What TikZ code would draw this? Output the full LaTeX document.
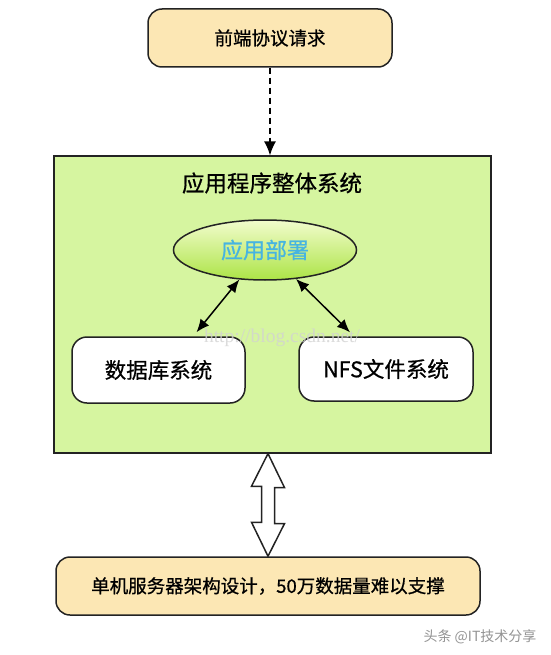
\documentclass[tikz,border=0pt]{standalone}
\usepackage{fontspec}
\setmainfont{Noto Sans CJK SC}[FakeBold=0.7]
\newfontfamily\wmfont{Liberation Serif}
\newfontfamily\plainfont{Noto Sans CJK SC}
\usetikzlibrary{shapes.geometric,arrows.meta}

\definecolor{reqfill}{RGB}{252,231,180}
\definecolor{sysfill}{RGB}{214,245,160}
\definecolor{edge}{RGB}{35,35,35}
\definecolor{apptext}{RGB}{70,180,225}
\definecolor{apptop}{RGB}{242,252,205}
\definecolor{appbot}{RGB}{172,228,70}

\tikzset{
  reqbox/.style={draw=edge,line width=1.5pt,rounded corners=14pt,fill=reqfill},
  subbox/.style={draw=edge,line width=1.5pt,rounded corners=15pt,fill=white},
  link/.style={line width=1.5pt,{Latex[length=13pt,width=11pt]}-{Latex[length=13pt,width=11pt]}}
}

\begin{document}
\begin{tikzpicture}[x=1pt,y=-1pt]
  \useasboundingbox (0,0) rectangle (550,655);
  % outer system box
  \node[draw=edge,line width=1.2pt,fill=sysfill,minimum width=437pt,minimum height=297pt]
        (sys)   at (272.5,304.5) {};
  \node (title) at (272,183) {\fontsize{22.5}{25}\selectfont 应用程序整体系统};
  % request on top, load at the bottom
  \node[reqbox,minimum width=244pt,minimum height=58pt]
        (req)   at (270,38) {\fontsize{18.5}{21}\selectfont 前端协议请求};
  \node[reqbox,minimum width=424pt,minimum height=58pt]
        (load)  at (268,586) {\fontsize{18.5}{21}\selectfont 单机服务器架构设计，50万数据量难以支撑};
  % inner parts
  \node[ellipse,draw=edge,line width=1.5pt,top color=apptop,bottom color=appbot,
        minimum width=183pt,minimum height=60pt,text=apptext]
        (app)   at (265,250) {\fontsize{22}{24}\selectfont 应用部署};
  \node[subbox,minimum width=173pt,minimum height=66pt]
        (db)    at (158.5,370) {\fontsize{21.5}{24}\selectfont 数据库系统};
  \node[subbox,minimum width=174pt,minimum height=64pt]
        (nfs)   at (386,369) {\fontsize{21.5}{24}\selectfont NFS文件系统};
  % watermarks
  \node[text=gray!35,opacity=0.8] (csdn) at (282,338) {\wmfont\fontsize{19.5}{22}\selectfont http://blog.csdn.net/};
  \node[text=gray!85] (mark) at (480,637) {\plainfont\fontsize{14}{16}\selectfont 头条 @IT技术分享};
  % connectors
  \draw[line width=1.5pt,dash pattern=on 6pt off 4pt,-{Latex[length=14pt,width=12pt]}]
        (req.south) -- (req.south |- sys.north);
  \draw[link] (app.229) -- ([xshift=38pt,yshift=4pt]db.north);
  \draw[link] (app.317) -- ([xshift=-36pt,yshift=4pt]nfs.north);
  \coordinate (dU) at (load.north |- sys.south);
  \coordinate (dD) at (load.north);
  \draw[draw=edge,line width=1.5pt,fill=white,line join=miter]
        (dU) -- ++(16.5,34) -- ++(-10,0) -- ++(0,36) -- ++(10,0) -- (dD)
        -- ++(-16.5,-34) -- ++(10,0) -- ++(0,-36) -- ++(-10,0) -- cycle;
\end{tikzpicture}
\end{document}
